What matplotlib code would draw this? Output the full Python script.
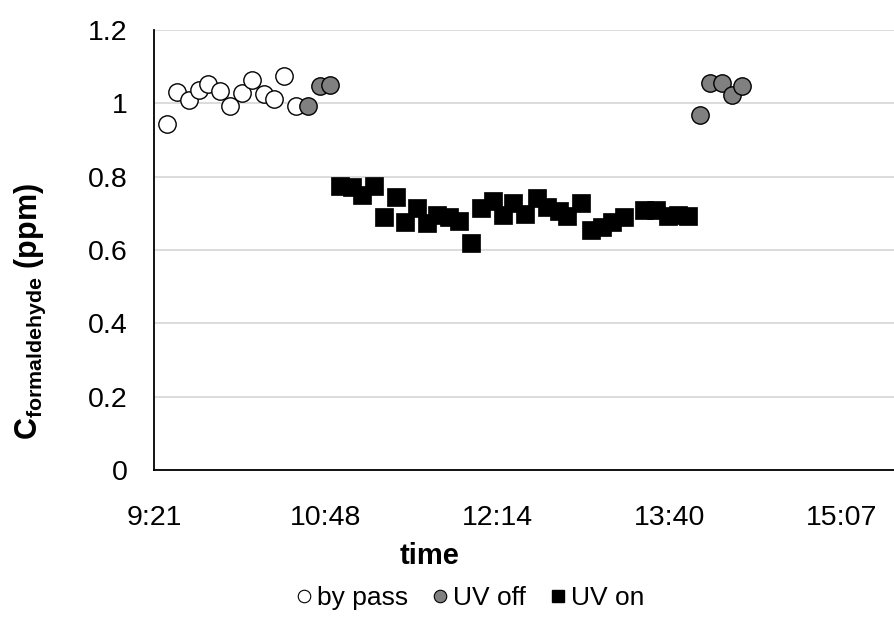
import matplotlib
matplotlib.use("Agg")
import matplotlib.pyplot as plt
from matplotlib.ticker import FixedLocator, FuncFormatter
from matplotlib.lines import Line2D

plt.rcParams['font.family'] = ['Liberation Sans', 'DejaVu Sans']
plt.rcParams['mathtext.fontset'] = 'custom'
plt.rcParams['mathtext.rm'] = 'Liberation Sans'
plt.rcParams['mathtext.bf'] = 'Liberation Sans:bold'
plt.rcParams['mathtext.it'] = 'Liberation Sans:italic'

# ---- data (time of day, C formaldehyde in ppm) ----
bypass_time = ["9:28", "9:33", "9:39", "9:44", "9:49", "9:55", "10:00", "10:06",
               "10:11", "10:17", "10:22", "10:27", "10:33"]
bypass_ppm = [0.944, 1.031, 1.009, 1.036, 1.053, 1.032, 0.993, 1.027,
              1.062, 1.025, 1.012, 1.073, 0.993]

uvoff_time = ["10:39", "10:45", "10:50", "13:56", "14:01", "14:07", "14:12", "14:17"]
uvoff_ppm = [0.992, 1.047, 1.051, 0.969, 1.055, 1.056, 1.023, 1.047]

uvon_time = ["10:55", "11:01", "11:06", "11:12", "11:17", "11:23", "11:28", "11:34",
             "11:39", "11:44", "11:50", "11:55", "12:01", "12:06", "12:12", "12:17",
             "12:22", "12:28", "12:34", "12:39", "12:45", "12:49", "12:56", "13:01",
             "13:07", "13:12", "13:18", "13:28", "13:34", "13:40", "13:45", "13:50"]
uvon_ppm = [0.773, 0.771, 0.751, 0.775, 0.691, 0.745, 0.677, 0.713,
            0.673, 0.694, 0.691, 0.680, 0.620, 0.715, 0.734, 0.695,
            0.728, 0.698, 0.741, 0.718, 0.706, 0.692, 0.727, 0.654,
            0.662, 0.675, 0.689, 0.710, 0.710, 0.692, 0.695, 0.693]

x_ticks_day = [0.39, 0.45, 0.51, 0.57, 0.63]
y_ticks = [0, 0.2, 0.4, 0.6, 0.8, 1.0, 1.2]
y_tick_labels = ["0", "0.2", "0.4", "0.6", "0.8", "1", "1.2"]


def to_day(s):
    h, m = s.split(":")
    return (int(h) * 60 + int(m)) / 1440.0


def fmt_time(v, pos=None):
    total = v * 24 * 60
    h = int(total // 60)
    m = int(total - h * 60)
    return f"{h}:{m:02d}"


fig = plt.figure(figsize=(8.95, 6.22), dpi=100)
ax = fig.add_axes([0.172, 0.2444, 0.828, 0.7076])

bx = [to_day(t) for t in bypass_time]
ox = [to_day(t) for t in uvoff_time]
nx = [to_day(t) for t in uvon_time]

ax.plot(nx, uvon_ppm, linestyle='none', marker='s', markersize=13,
        markerfacecolor='black', markeredgecolor='black', markeredgewidth=0.5, zorder=3)
ax.plot(bx, bypass_ppm, linestyle='none', marker='o', markersize=12.5,
        markerfacecolor='white', markeredgecolor='black', markeredgewidth=1.0, zorder=3)
ax.plot(ox, uvoff_ppm, linestyle='none', marker='o', markersize=12.5,
        markerfacecolor='#808080', markeredgecolor='black', markeredgewidth=1.0, zorder=3)

ax.set_xlim(0.39, 0.6486)
ax.set_ylim(0, 1.2)
ax.xaxis.set_major_locator(FixedLocator(x_ticks_day))
ax.xaxis.set_major_formatter(FuncFormatter(fmt_time))
ax.set_yticks(y_ticks)
ax.set_yticklabels(y_tick_labels)

ax.grid(axis='y', color='#d9d9d9', linewidth=1.3, zorder=0)
ax.set_axisbelow(True)
for s in ['top', 'right']:
    ax.spines[s].set_visible(False)
for s in ['left', 'bottom']:
    ax.spines[s].set_color('black')
    ax.spines[s].set_linewidth(1.3)

ax.tick_params(axis='both', length=0, labelsize=20.5)
ax.tick_params(axis='x', pad=25)
ax.tick_params(axis='y', pad=19)

fig.text(30 / 895, 1 - 312 / 622, r'$\mathbf{C_{formaldehyde}}$ (ppm)', rotation=90,
         ha='center', va='center', fontsize=22, fontweight='bold')
fig.text(430 / 895, 1 - 556 / 622, 'time', ha='center', va='center',
         fontsize=21, fontweight='bold')

handles = [
    Line2D([], [], linestyle='none', marker='o', markersize=9, markerfacecolor='white',
           markeredgecolor='black', markeredgewidth=0.8),
    Line2D([], [], linestyle='none', marker='o', markersize=9, markerfacecolor='#808080',
           markeredgecolor='black', markeredgewidth=0.8),
    Line2D([], [], linestyle='none', marker='s', markersize=9, markerfacecolor='black',
           markeredgecolor='black'),
]
fig.legend(handles, ['by pass', 'UV off', 'UV on'], loc='center',
           bbox_to_anchor=(470 / 895, 1 - 598 / 622), ncol=3, frameon=False,
           fontsize=19, handlelength=0.6, handletextpad=0.2, columnspacing=0.9)

fig.savefig('out.png', dpi=100)
